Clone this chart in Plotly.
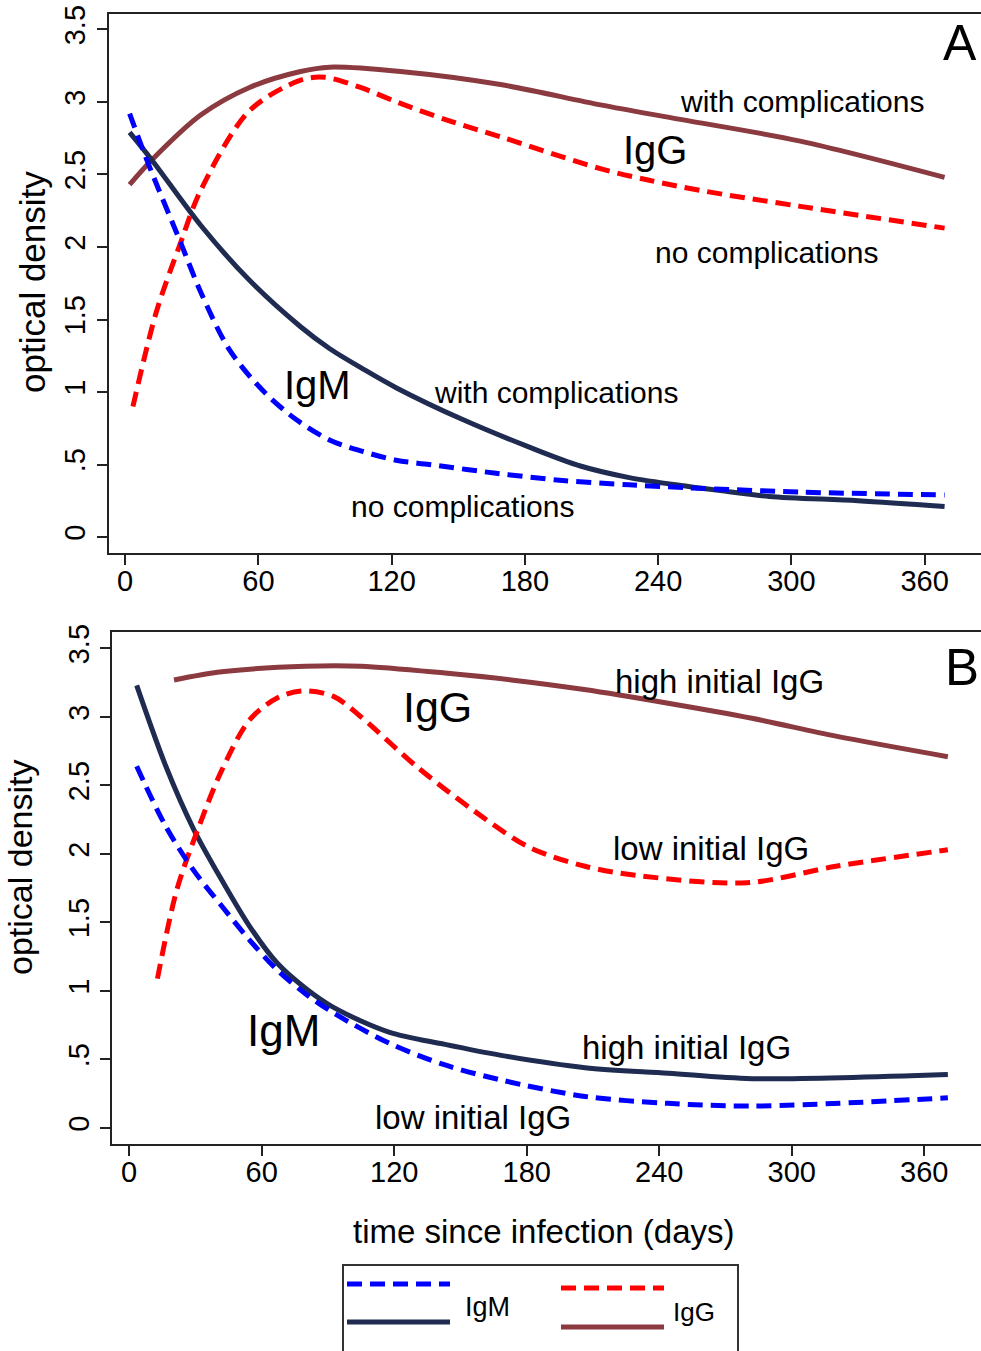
import plotly.graph_objects as go

W, H = 981, 1351
FONT = "Liberation Sans, Arial, Helvetica, sans-serif"

# ---------------- data ----------------
# Panel A (complications)
a_igm_no_d = [2, 10, 25, 34, 47, 62, 77, 92, 107, 122, 137, 167, 197, 227, 253, 304, 369]
a_igm_no_v = [2.92, 2.59, 2.03, 1.69, 1.29, 1.01, 0.81, 0.67, 0.59, 0.53, 0.50, 0.44, 0.39, 0.36, 0.34, 0.31, 0.29]

a_igm_with_d = [2, 12, 34, 56, 79, 92, 107, 122, 152, 182, 205, 227, 253, 268, 290, 330, 369]
a_igm_with_v = [2.79, 2.60, 2.15, 1.77, 1.45, 1.30, 1.16, 1.03, 0.81, 0.62, 0.49, 0.41, 0.35, 0.32, 0.28, 0.25, 0.21]

a_igg_with_d = [2, 12, 34, 56, 79, 92, 124, 169, 214, 250, 304, 369]
a_igg_with_v = [2.43, 2.60, 2.91, 3.10, 3.21, 3.24, 3.21, 3.12, 2.98, 2.88, 2.73, 2.48]

a_igg_no_d = [3.5, 14, 25, 34, 56, 79, 90, 106, 124, 146, 169, 214, 236, 259, 304, 369]
a_igg_no_v = [0.90, 1.55, 2.03, 2.39, 2.94, 3.15, 3.17, 3.10, 2.99, 2.87, 2.76, 2.54, 2.46, 2.39, 2.28, 2.13]

# Panel B (initial IgG)
b_igg_high_d = [20.3, 41.9, 79.8, 105, 143, 173, 206, 244, 282, 320, 370.7]
b_igg_high_v = [3.27, 3.33, 3.37, 3.37, 3.32, 3.27, 3.20, 3.10, 2.99, 2.86, 2.71]

b_igg_low_d = [12.8, 21.6, 31.6, 41.9, 54.6, 67.2, 78.6, 92.5, 105, 130, 155.7, 181, 206.4, 231.6, 279.7, 320, 370.7]
b_igg_low_v = [1.09, 1.74, 2.20, 2.61, 2.98, 3.14, 3.19, 3.15, 3.00, 2.64, 2.32, 2.05, 1.91, 1.84, 1.79, 1.91, 2.03]

b_igm_high_d = [3.4, 16.6, 29.2, 41.9, 54.6, 67.2, 79.8, 92.5, 117.6, 143, 168.4, 206.4, 244, 282, 370.7]
b_igm_high_v = [3.23, 2.64, 2.18, 1.81, 1.47, 1.20, 1.02, 0.88, 0.70, 0.61, 0.53, 0.44, 0.40, 0.36, 0.39]

b_igm_low_d = [3.4, 16.6, 29.2, 41.9, 54.6, 67.2, 79.8, 92.5, 117.6, 143, 168.4, 206.4, 244, 282, 370.7]
b_igm_low_v = [2.64, 2.20, 1.88, 1.62, 1.37, 1.15, 0.98, 0.84, 0.62, 0.46, 0.35, 0.23, 0.18, 0.16, 0.22]

x_ticks = [0, 60, 120, 180, 240, 300, 360]
y_ticks = [0, 0.5, 1, 1.5, 2, 2.5, 3, 3.5]
y_tick_text = ["0", ".5", "1", "1.5", "2", "2.5", "3", "3.5"]

BLUE = "#0000ff"
NAVY = "#1f2b50"
RED = "#ff0000"
MAROON = "#8b3a40"
DASH = "15px,8px"
LW = 5

fig = go.Figure()


def add(d, v, color, dash, xa, ya):
    fig.add_trace(go.Scatter(
        x=d, y=v, mode="lines", xaxis=xa, yaxis=ya, showlegend=False,
        line=dict(color=color, width=LW, dash=dash, shape="spline", smoothing=0.9),
        hoverinfo="skip"))


add(a_igg_with_d, a_igg_with_v, MAROON, "solid", "x", "y")
add(a_igm_with_d, a_igm_with_v, NAVY, "solid", "x", "y")
add(a_igg_no_d, a_igg_no_v, RED, DASH, "x", "y")
add(a_igm_no_d, a_igm_no_v, BLUE, DASH, "x", "y")

add(b_igg_high_d, b_igg_high_v, MAROON, "solid", "x2", "y2")
add(b_igm_high_d, b_igm_high_v, NAVY, "solid", "x2", "y2")
add(b_igg_low_d, b_igg_low_v, RED, DASH, "x2", "y2")
add(b_igm_low_d, b_igm_low_v, BLUE, DASH, "x2", "y2")

AXC = "#222222"
xcommon = dict(tickvals=x_ticks, ticks="outside", ticklen=10, tickwidth=2, tickcolor=AXC,
               showline=True, linewidth=2, linecolor=AXC, mirror=True, showgrid=False,
               zeroline=False, automargin=False, ticklabelstandoff=-9,
               tickfont=dict(family=FONT, size=29, color="#000"))
ycommon = dict(tickvals=y_ticks, ticktext=y_tick_text, ticks="outside", ticklen=10, tickwidth=2,
               tickcolor=AXC, showline=True, linewidth=2, linecolor=AXC, mirror=False,
               showgrid=False, zeroline=False, tickangle=-90, automargin=False,
               tickfont=dict(family=FONT, size=29, color="#000"))

fig.update_layout(
    template="none",
    width=W, height=H, margin=dict(l=0, r=0, t=0, b=0, pad=0, autoexpand=False),
    paper_bgcolor="white", plot_bgcolor="white",
    xaxis=dict(domain=[108.5 / W, 1.0], range=[-7.5, 385.4], anchor="y", **xcommon),
    yaxis=dict(domain=[1 - 553 / H, 1 - 13.8 / H], range=[-0.110, 3.608], anchor="x", **ycommon),
    xaxis2=dict(domain=[112.4 / W, 1.0], range=[-7.6, 385.7], anchor="y2", **xcommon),
    yaxis2=dict(domain=[1 - 1144 / H, 1 - 632 / H], range=[-0.117, 3.62], anchor="x2", **ycommon),
)


def lab(text, x, y, xr, yr, size, angle=0):
    fig.add_annotation(text=text, x=x, y=y, xref=xr, yref=yr, showarrow=False,
                       xanchor="center", yanchor="middle", textangle=angle,
                       font=dict(family=FONT, size=size, color="#000"))


# Panel A labels
lab("with complications", 305, 3.00, "x", "y", 30)
lab("IgG", 238.6, 2.67, "x", "y", 40)
lab("no complications", 288.6, 1.96, "x", "y", 30)
lab("IgM", 86.8, 1.05, "x", "y", 40)
lab("with complications", 194, 1.00, "x", "y", 30)
lab("no complications", 152, 0.21, "x", "y", 30)
lab("A", 376, 3.41, "x", "y", 50)

# Panel B labels
lab("high initial IgG", 267.5, 3.26, "x2", "y2", 33)
lab("IgG", 139.8, 3.07, "x2", "y2", 43)
lab("low initial IgG", 263.5, 2.04, "x2", "y2", 33)
lab("IgM", 69.7, 0.715, "x2", "y2", 44)
lab("high initial IgG", 252.2, 0.59, "x2", "y2", 33)
lab("low initial IgG", 155.7, 0.08, "x2", "y2", 33)
lab("B", 377, 3.36, "x2", "y2", 51)

# axis titles
lab("optical density", 32 / W, 1 - 282 / H, "paper", "paper", 35, -90)
lab("optical density", 20 / W, 1 - 868 / H, "paper", "paper", 34, -90)
lab("time since infection (days)", 543 / W, 1 - 1231 / H, "paper", "paper", 33)


# legend (drawn manually)
def P(x, y):
    return x / W, 1 - y / H


x0, y0 = P(343, 1265)
x1, y1 = P(738, 1352)
fig.add_shape(type="rect", xref="paper", yref="paper", x0=x0, y0=y1, x1=x1, y1=y0,
              line=dict(color="#333", width=2), fillcolor="rgba(0,0,0,0)")
for (xa, xb, yy, col, dash) in [(347, 450, 1284, BLUE, DASH), (347, 450, 1322, NAVY, "solid"),
                                (561, 664, 1288, RED, DASH), (561, 664, 1327, MAROON, "solid")]:
    ax, ay = P(xa, yy)
    bx, _ = P(xb, yy)
    fig.add_shape(type="line", xref="paper", yref="paper", x0=ax, y0=ay, x1=bx, y1=ay,
                  line=dict(color=col, width=LW, dash=dash))
lab("IgM", 487 / W, 1 - 1307 / H, "paper", "paper", 27)
lab("IgG", 694 / W, 1 - 1312 / H, "paper", "paper", 26)

fig.write_html("out.html", config={"displayModeBar": False},
               post_script="document.body.style.margin='0px';document.body.style.overflow='hidden';")
